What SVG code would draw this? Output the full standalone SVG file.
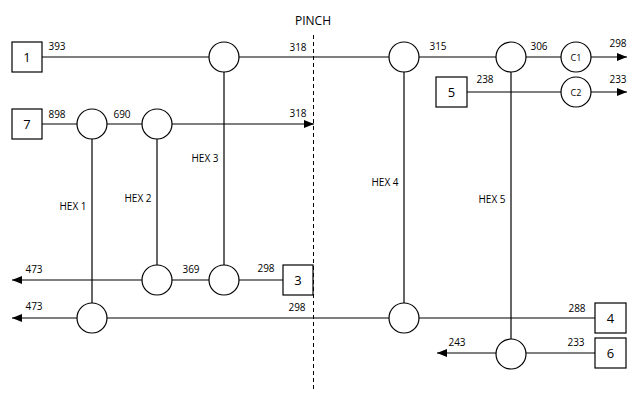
<svg xmlns="http://www.w3.org/2000/svg" width="644" height="404" viewBox="0 0 644 404">
<style>
.ln{stroke:#000;stroke-width:1.2;fill:none}
.arr{marker-end:url(#ah)}
.pinch{stroke:#000;stroke-width:1;stroke-dasharray:4,3;fill:none}
.hx{fill:#fff;stroke:#000;stroke-width:1.2}
.bx{fill:#fff;stroke:#000;stroke-width:1.2}
.t{font-family:"Open Sans","DejaVu Sans",sans-serif;font-size:10px;fill:#000}
.bt{font-family:"Open Sans","DejaVu Sans",sans-serif;font-size:13px;fill:#000;text-anchor:middle;dominant-baseline:central}
.ct{font-family:"Open Sans","DejaVu Sans",sans-serif;font-size:9px;fill:#000;text-anchor:middle;dominant-baseline:central}
.m{text-anchor:middle}
</style>
<defs>
<marker id="ah" markerWidth="10" markerHeight="8" refX="10" refY="4" orient="auto" markerUnits="userSpaceOnUse">
<path d="M0,0 L10,4 L0,8 Z" fill="#000"/>
</marker>
</defs>
<rect width="644" height="404" fill="#fff"/>
<text class="t m" x="313" y="25" style="font-size:12px">PINCH</text>
<line class="pinch" x1="313.5" y1="35" x2="313.5" y2="390"/>
<g id="connectors">
<line class="ln" x1="42" y1="57" x2="404" y2="57"/>
<line class="ln" x1="404" y1="57" x2="561" y2="57"/>
<line class="ln arr" x1="591" y1="57" x2="627" y2="57"/>
<line class="ln" x1="467" y1="92" x2="561" y2="92"/>
<line class="ln arr" x1="591" y1="92" x2="627" y2="92"/>
<line class="ln arr" x1="42" y1="124" x2="314" y2="124"/>
<line class="ln arr" x1="283" y1="280" x2="12" y2="280"/>
<line class="ln arr" x1="595" y1="318" x2="12" y2="318"/>
<line class="ln arr" x1="595" y1="353" x2="437" y2="353"/>
<line class="ln" x1="92" y1="124" x2="92" y2="318"/>
<line class="ln" x1="157" y1="124" x2="157" y2="280"/>
<line class="ln" x1="224" y1="57" x2="224" y2="280"/>
<line class="ln" x1="404" y1="57" x2="404" y2="318"/>
<line class="ln" x1="511" y1="57" x2="511" y2="353"/>
</g>
<g id="n1"><rect class="bx" x="12" y="42" width="30" height="30"/><text class="bt" x="27" y="57">1</text></g>
<g id="n7"><rect class="bx" x="12" y="109" width="30" height="30"/><text class="bt" x="27" y="124">7</text></g>
<g id="n5"><rect class="bx" x="436" y="77" width="31" height="30"/><text class="bt" x="451.5" y="92">5</text></g>
<g id="n3"><rect class="bx" x="283" y="265" width="30" height="30"/><text class="bt" x="298" y="280">3</text></g>
<g id="n4"><rect class="bx" x="595" y="303" width="31" height="30"/><text class="bt" x="610.5" y="318">4</text></g>
<g id="n6"><rect class="bx" x="595" y="338" width="31" height="30"/><text class="bt" x="610.5" y="353">6</text></g>
<g id="hex1">
<circle class="hx" cx="92" cy="124" r="15"/>
<circle class="hx" cx="92" cy="318" r="15"/>
<text class="t m" x="73" y="210">HEX 1</text>
</g>
<g id="hex2">
<circle class="hx" cx="157" cy="124" r="15"/>
<circle class="hx" cx="157" cy="280" r="15"/>
<text class="t m" x="138" y="202">HEX 2</text>
</g>
<g id="hex3">
<circle class="hx" cx="224" cy="57" r="15"/>
<circle class="hx" cx="224" cy="280" r="15"/>
<text class="t m" x="205" y="162">HEX 3</text>
</g>
<g id="hex4">
<circle class="hx" cx="404" cy="57" r="15"/>
<circle class="hx" cx="404" cy="318" r="15"/>
<text class="t m" x="385" y="186">HEX 4</text>
</g>
<g id="hex5">
<circle class="hx" cx="511" cy="57" r="15"/>
<circle class="hx" cx="511" cy="354" r="15"/>
<text class="t m" x="492" y="203">HEX 5</text>
</g>
<g id="c1"><circle class="hx" cx="576" cy="57" r="15"/><text class="ct" x="576" y="57">C1</text></g>
<g id="c2"><circle class="hx" cx="576" cy="92" r="15"/><text class="ct" x="576" y="92">C2</text></g>
<g id="labels">
<text class="t m" x="57" y="50">393</text>
<text class="t m" x="298" y="51">318</text>
<text class="t m" x="438" y="50">315</text>
<text class="t m" x="539" y="50">306</text>
<text class="t m" x="618" y="47">298</text>
<text class="t m" x="485" y="83">238</text>
<text class="t m" x="618" y="83">233</text>
<text class="t m" x="57" y="118">898</text>
<text class="t m" x="122" y="118">690</text>
<text class="t m" x="298" y="117">318</text>
<text class="t m" x="34" y="273">473</text>
<text class="t m" x="191" y="273">369</text>
<text class="t m" x="266" y="272">298</text>
<text class="t m" x="34" y="310">473</text>
<text class="t m" x="297" y="311">298</text>
<text class="t m" x="577" y="312">288</text>
<text class="t m" x="457" y="346">243</text>
<text class="t m" x="576" y="346">233</text>
</g>
</svg>
